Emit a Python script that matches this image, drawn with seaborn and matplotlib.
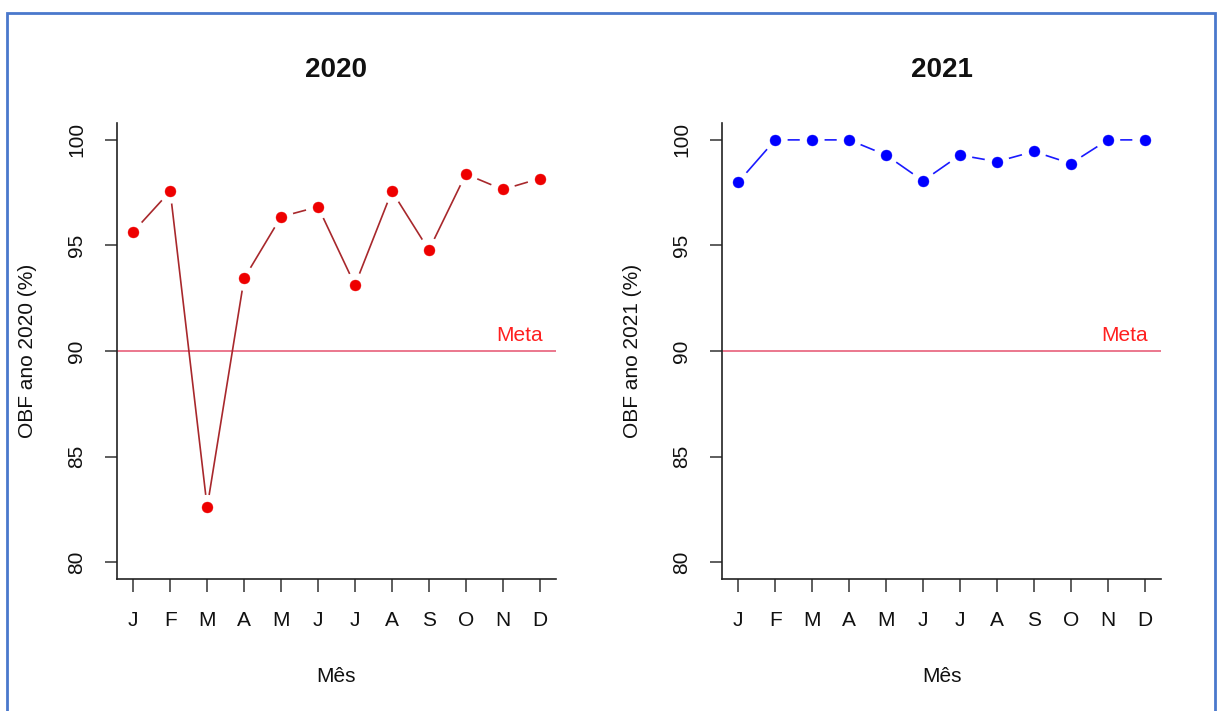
import matplotlib
matplotlib.use("Agg")
import matplotlib.pyplot as plt
from matplotlib.patches import Rectangle
import numpy as np
import pandas as pd
import seaborn as sns

# Monthly OBF values (%)
meses = ["J", "F", "M", "A", "M", "J", "J", "A", "S", "O", "N", "D"]
obf_2020 = [95.65, 97.57, 82.60, 93.44, 96.36, 96.83, 93.12, 97.57, 94.78, 98.38, 97.65, 98.17]
obf_2021 = [98.0, 100.0, 100.0, 100.0, 99.28, 98.06, 99.28, 98.97, 99.45, 98.88, 100.0, 100.0]
meta = 90
y_ticks = [80, 85, 90, 95, 100]

sns.set_theme(style="white")
plt.rcParams["font.family"] = ["Liberation Sans", "DejaVu Sans"]

fig = plt.figure(figsize=(12.19, 7.11), dpi=100)

W, H = 1219.0, 711.0
ax_w = 439 / W
ax_h = 456 / H
ax_b = 1 - 579 / H
axes = [fig.add_axes([117 / W, ax_b, ax_w, ax_h]),
        fig.add_axes([722 / W, ax_b, ax_w, ax_h])]

panels = [
    ("2020", obf_2020, "#A8282C", "#EE0000"),
    ("2021", obf_2021, "#1A1AFF", "#0000FF"),
]

for ax, (ano, valores, line_col, pt_col) in zip(axes, panels):
    df = pd.DataFrame({"mes": np.arange(1, 13), "obf": valores})

    ax.axhline(meta, color="#E8607A", lw=1.2, zorder=1)
    sns.lineplot(data=df, x="mes", y="obf", ax=ax, color=line_col, lw=1.2, zorder=2)
    # white discs leave a small gap between the line and each point
    sns.scatterplot(data=df, x="mes", y="obf", ax=ax, color="white", s=320,
                    edgecolor="none", linewidth=0, zorder=3)
    sns.scatterplot(data=df, x="mes", y="obf", ax=ax, color=pt_col, s=62,
                    edgecolor=pt_col, linewidth=0.3, zorder=4)

    ax.text(12.08, meta + 0.47, "Meta", color="#FF2020", fontsize=15,
            ha="right", va="baseline", zorder=5)

    ax.set_xlim(0.56, 12.44)
    ax.set_ylim(79.2, 100.8)
    ax.set_xticks(np.arange(1, 13))
    ax.set_xticklabels(meses)
    ax.set_yticks(y_ticks)
    ax.set_yticklabels([str(v) for v in y_ticks], rotation=90, va="center")

    for side in ("top", "right"):
        ax.spines[side].set_visible(False)
    for side in ("left", "bottom"):
        ax.spines[side].set_color("#222222")
        ax.spines[side].set_linewidth(1.2)

    ax.tick_params(axis="both", which="both", direction="out", length=9,
                   width=1.1, color="#333333", labelsize=15, labelcolor="#111111",
                   bottom=True, left=True)
    ax.tick_params(axis="x", pad=14)
    ax.tick_params(axis="y", pad=13)

    ax.set_xlabel("Mês", fontsize=15, color="#111111", va="center")
    ax.xaxis.set_label_coords(0.5, (579 - 677) / 456)
    ax.set_ylabel(f"OBF ano {ano} (%)", fontsize=15, color="#111111", va="center")
    ax.yaxis.set_label_coords((28 - 117) / 439, 0.5)

    ax.set_title(ano, fontsize=20, fontweight="bold", color="#111111",
                 y=(579 - 70) / 456, va="center", pad=0)
    ax.grid(False)

# blue frame around the figure
fig.patches.append(Rectangle((7 / W, -0.05), (1215 - 7) / W, 1.05 - 13 / H,
                             transform=fig.transFigure, fill=False,
                             edgecolor="#4A78CC", linewidth=2.0, zorder=10))

fig.savefig("out.png", dpi=100)
